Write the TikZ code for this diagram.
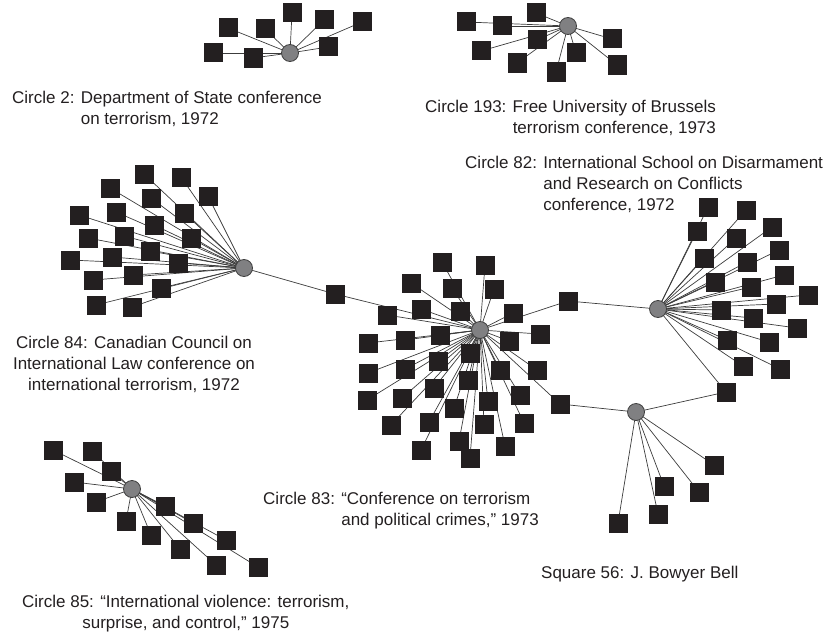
\documentclass[tikz,border=0pt]{standalone}
\usepackage{fontspec}
\setmainfont{Liberation Sans}
\usetikzlibrary{backgrounds}
\definecolor{sqc}{HTML}{231F20}
\definecolor{edgec}{HTML}{3C3C3C}
\definecolor{circf}{HTML}{808082}
\definecolor{circd}{HTML}{404040}
\definecolor{txt}{HTML}{231F20}
\begin{document}
\begin{tikzpicture}[x=1pt,y=-1pt,
  sq/.style={rectangle,fill=sqc,minimum size=19pt,inner sep=0pt},
  hub/.style={circle,fill=circf,draw=circd,line width=0.8pt,minimum size=17pt,inner sep=0pt},
  edge/.style={draw=edgec,line width=0.7pt},
  lbl/.style={inner sep=0pt,text=txt,font=\fontsize{17}{21}\selectfont}]
\useasboundingbox (0,0) rectangle (832,634);
% hubs
\foreach \n/\x/\y in {cA/290/53, cB/568/26, cC/244/268, cD/480/330, cE/658/309, cF/636/412, cG/132/489}
  \node[hub] (\n) at (\x,\y) {};
% squares
\foreach \n/\x/\y in {a1/292/13, a2/324/20, a3/362/22, a4/228/28, a5/265/29, a6/328/47, a7/213/53, a8/253/58,
  b1/536/13, b2/466/22, b3/502/26, b4/537/40, b5/612/39, b6/481/51, b7/576/53, b8/517/63, b9/556/72, b10/617/65,
  c1/144/174, c2/181/177, c3/110/188, c4/208/196, c5/151/198, c6/79/215, c7/116/212, c8/184/213, c9/154/225, c10/88/238,
  c11/124/236, c12/191/238, c13/150/251, c14/70/260, c15/112/257, c16/178/263, c17/93/280, c18/133/275, c19/161/288, c20/96/305, c21/132/307,
  d1/442/262, d2/485/265, d3/411/283, d4/452/288, d5/494/289, d6/421/309, d7/387/315, d8/460/311, d9/513/313, d10/368/343,
  d11/405/340, d12/440/335, d13/540/334, d14/509/341, d15/470/353, d16/438/361, d17/405/369, d18/368/373, d19/500/370, d20/537/370,
  d21/468/380, d22/434/388, d23/402/398, d24/367/400, d25/520/395, d26/488/401, d27/454/408, d28/391/425, d29/429/422, d30/484/424,
  d31/524/423, d32/459/441, d33/421/450, d34/505/446, d35/470/458,
  e1/708/207, e2/746/210, e3/697/231, e4/772/227, e5/736/238, e6/779/250, e7/704/258, e8/747/262, e9/784/275, e10/715/282,
  e11/751/287, e12/808/295, e13/776/304, e14/721/310, e15/753/318, e16/797/328, e17/727/340, e18/769/342, e19/743/366, e20/780/369,
  f1/714/465, f2/664/486, f3/699/492, f4/658/514, f5/618/523,
  g1/53/450, g2/92/451, g3/111/471, g4/74/482, g5/96/502, g6/165/506, g7/126/521, g8/193/523, g9/151/535, g10/226/540,
  g11/180/549, g12/258/567, g13/216/565,
  x1/335/294, x2/568/301, x3/560/404, x4/726/392}
  \node[sq] (\n) at (\x,\y) {};
% connectors
\begin{scope}[on background layer]
  \foreach \i in {1,...,8} \draw[edge] (cA.center) -- (a\i.center);
  \foreach \i in {1,...,10} \draw[edge] (cB.center) -- (b\i.center);
  \foreach \i in {1,...,21} \draw[edge] (cC.center) -- (c\i.center);
  \foreach \i in {1,...,35} \draw[edge] (cD.center) -- (d\i.center);
  \foreach \i in {1,...,20} \draw[edge] (cE.center) -- (e\i.center);
  \foreach \i in {1,...,5} \draw[edge] (cF.center) -- (f\i.center);
  \foreach \i in {1,...,13} \draw[edge] (cG.center) -- (g\i.center);
  \draw[edge] (cC.center) -- (x1.center) -- (cD.center);
  \draw[edge] (cD.center) -- (x2.center) -- (cE.center);
  \draw[edge] (cD.center) -- (x3.center) -- (cF.center);
  \draw[edge] (cE.center) -- (x4.center) -- (cF.center);
\end{scope}
% labels
\node[lbl,anchor=base west] (l2) at (12,103) {Circle 2: \begin{tabular}[t]{@{}l@{}}Department of State conference\\on terrorism, 1972\end{tabular}};
\node[lbl,anchor=base west] (l193) at (425,112) {Circle 193: \begin{tabular}[t]{@{}l@{}}Free University of Brussels\\terrorism conference, 1973\end{tabular}};
\node[lbl,anchor=base west] (l82) at (465,168) {Circle 82: \begin{tabular}[t]{@{}l@{}}International School on Disarmament\\and Research on Conflicts\\conference, 1972\end{tabular}};
\node[lbl,anchor=base] (l84) at (134,348) {\begin{tabular}[t]{@{}c@{}}Circle 84: Canadian Council on\\International Law conference on\\international terrorism, 1972\end{tabular}};
\node[lbl,anchor=base west] (l83) at (263,504) {Circle 83: \begin{tabular}[t]{@{}l@{}}“Conference on terrorism\\and political crimes,” 1973\end{tabular}};
\node[lbl,anchor=base west] (l56) at (541,578) {Square 56: J. Bowyer Bell};
\node[lbl,anchor=base west] (l85) at (22,607) {\begin{tabular}[t]{@{}c@{}}Circle 85: “International violence: terrorism,\\surprise, and control,” 1975\end{tabular}};
\end{tikzpicture}
\end{document}
